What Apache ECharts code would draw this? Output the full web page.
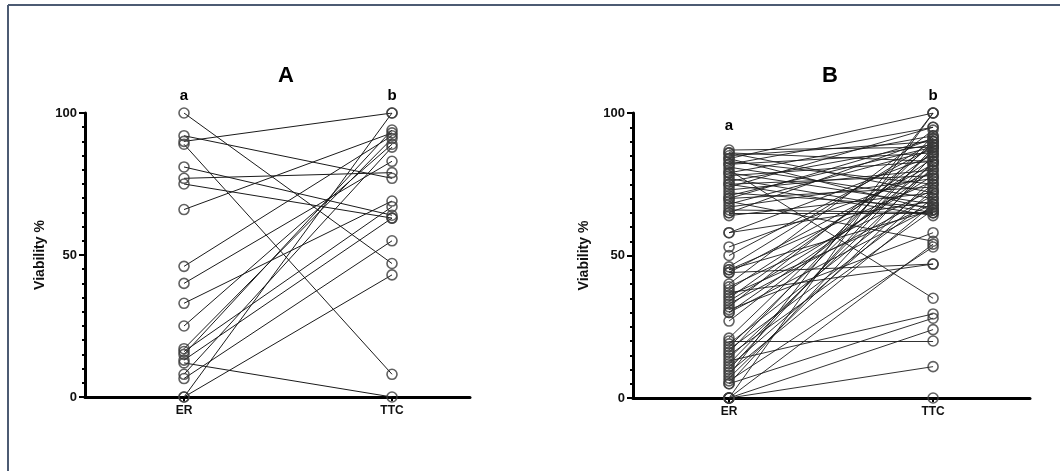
<!DOCTYPE html>
<html>
<head>
<meta charset="utf-8">
<script src="https://cdn.jsdelivr.net/npm/echarts@6/dist/echarts.min.js"></script>
<style>
  html, body { margin: 0; background: #fff; }
  #chart { width: 1060px; height: 471px; }
</style>
</head>
<body>
<div id="chart"></div>
<script>
// groups on the x axis
const groups = ['ER', 'TTC'];
// y axis ticks
const yTicks = [0, 50, 100];

// panel A: paired values, ER[i] -> TTC[i]
const erA  = [100, 92, 90, 89, 81, 77, 75, 66, 46, 40, 33, 25, 17, 16, 15, 13, 12, 8, 6.5, 0, 0];
const ttcA = [47, 77, 100, 8, 64, 79, 63, 93, 92, 83, 69, 89, 91, 67, 94, 63, 0, 88, 55, 43, 100];

// panel B
const erB  = [87, 86, 85, 84, 84, 83, 82, 81, 80, 79, 79, 78, 77, 76, 75, 75, 74, 73, 72, 71,
              70, 69, 68, 67, 66, 65, 65, 64, 58, 58, 53, 50, 46, 45, 45, 44, 44, 40, 39, 38,
              37, 36, 35, 34, 33, 32, 31, 30, 30, 27, 21, 20, 19, 18, 17, 16, 15, 14, 13, 12,
              11, 10, 9, 8, 7, 6, 5, 5, 0, 0, 0, 0, 0, 86, 82, 70];
const ttcB = [88, 72, 90, 66, 100, 75, 86, 70, 35, 92, 68, 83, 65, 89, 78, 64, 95, 80, 67, 88,
              74, 55, 87, 77, 65, 65, 91, 72, 85, 69, 79, 88, 90, 66, 76, 82, 47, 94, 73, 84,
              47, 68, 86, 78, 71, 89, 58, 80, 67, 82, 90, 20, 75, 87, 70, 92, 66, 81, 29.5, 85,
              73, 88, 68, 100, 77, 53, 83, 28, 24, 11, 0, 100, 54, 83, 95, 91];

const chart = echarts.init(document.getElementById('chart'));
const font = 'Liberation Sans, Arial, sans-serif';

function pairLines(er, ttc) {
  return er.map((v, i) => ({ coords: [[0, v], [1, ttc[i]]] }));
}
function points(er, ttc) {
  return er.map(v => [0, v]).concat(ttc.map(v => [1, v]));
}

function xAxis(idx, min, max) {
  return {
    gridIndex: idx, type: 'value', min: min, max: max,
    splitLine: { show: false },
    axisLine: { show: true, onZero: false, lineStyle: { color: '#000', width: 3 } },
    axisTick: { show: true, customValues: [0, 1], length: 4, lineStyle: { color: '#000', width: 2 } },
    axisLabel: {
      customValues: [0, 1], formatter: v => groups[Math.round(v)],
      color: '#111', fontWeight: 'bold', fontSize: 12, fontFamily: font, margin: 8
    }
  };
}
function yAxis(idx, gap) {
  return {
    gridIndex: idx, type: 'value', min: yTicks[0], max: yTicks[2], interval: yTicks[1] - yTicks[0],
    name: 'Viability %', nameLocation: 'middle', nameGap: gap, nameRotate: 90,
    nameTextStyle: { color: '#111', fontWeight: 'bold', fontSize: 14, fontFamily: font },
    splitLine: { show: false },
    axisLine: { show: true, onZero: false, lineStyle: { color: '#000', width: 3 } },
    axisTick: { show: true, length: 6, lineStyle: { color: '#000', width: 2 } },
    minorTick: { show: true, splitNumber: 10, length: 3, lineStyle: { color: '#000', width: 2 } },
    axisLabel: { color: '#111', fontWeight: 'bold', fontSize: 13, fontFamily: font, margin: 8 }
  };
}
function lineSeries(idx, er, ttc, w) {
  return {
    type: 'lines', coordinateSystem: 'cartesian2d', xAxisIndex: idx, yAxisIndex: idx,
    data: pairLines(er, ttc), silent: true,
    lineStyle: { color: '#1a1a1a', width: w, opacity: 1 }
  };
}
function dotSeries(idx, er, ttc) {
  return {
    type: 'scatter', xAxisIndex: idx, yAxisIndex: idx, data: points(er, ttc),
    symbol: 'circle', symbolSize: 10, clip: false, z: 3,
    itemStyle: { color: 'rgba(255,255,255,0)', borderColor: '#3a3a3a', borderWidth: 1.6 }
  };
}
function label(text, x, y, size) {
  return {
    type: 'text', x: x, y: y, z: 10,
    style: { text: text, fill: '#000', font: 'bold ' + size + 'px ' + font,
             textAlign: 'center', textVerticalAlign: 'middle' }
  };
}

const option = {
  animation: false,
  backgroundColor: '#fff',
  grid: [
    { left: 85, top: 113, width: 385, height: 284 },
    { left: 633, top: 113, width: 397, height: 285 }
  ],
  xAxis: [xAxis(0, -0.476, 1.375), xAxis(1, -0.4706, 1.475)],
  yAxis: [yAxis(0, 38), yAxis(1, 42)],
  series: [
    lineSeries(0, erA, ttcA, 1),
    dotSeries(0, erA, ttcA),
    lineSeries(1, erB, ttcB, 0.9),
    dotSeries(1, erB, ttcB)
  ],
  graphic: [
    { type: 'line', shape: { x1: 8, y1: 5, x2: 1060, y2: 5 }, style: { stroke: '#4c5b73', lineWidth: 2 } },
    { type: 'line', shape: { x1: 8, y1: 5, x2: 8, y2: 471 }, style: { stroke: '#4c5b73', lineWidth: 2 } },
    label('A', 286, 76, 22),
    label('B', 830, 76, 22),
    label('a', 184, 96, 15),
    label('b', 392, 96, 15),
    label('a', 729, 126, 15),
    label('b', 933, 96, 15)
  ]
};
chart.setOption(option);
</script>
</body>
</html>
